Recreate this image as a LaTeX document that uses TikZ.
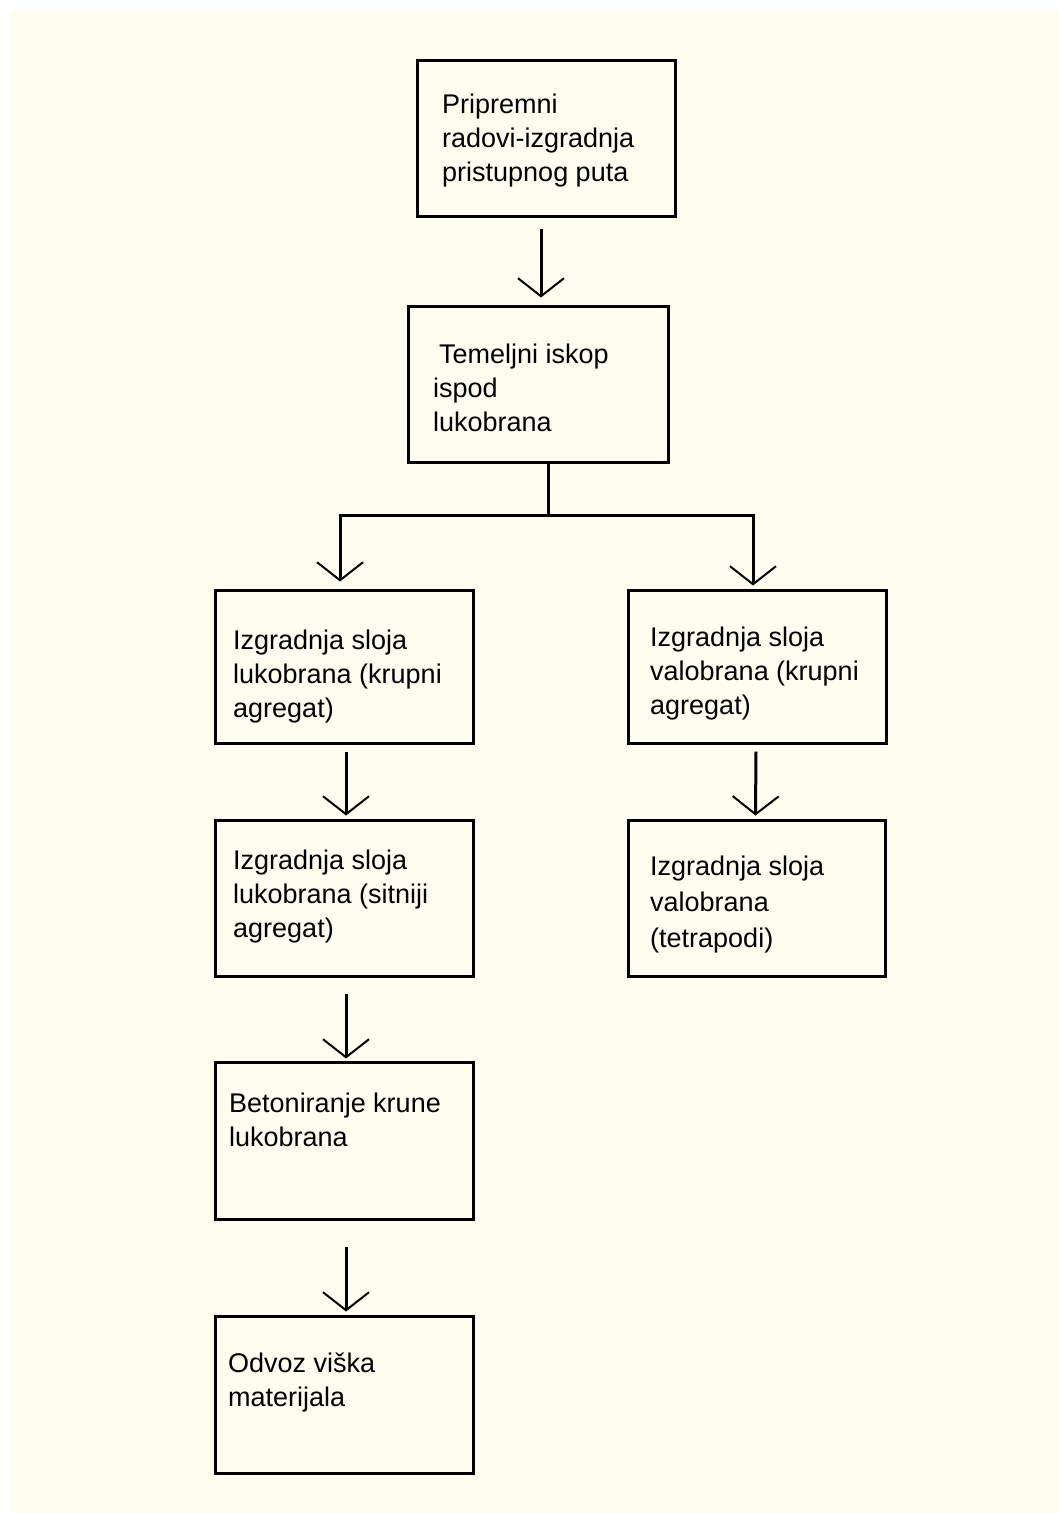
\documentclass[tikz,border=0pt]{standalone}
\usepackage{fontspec}
\setmainfont{Liberation Sans}
\usetikzlibrary{arrows.meta}
\definecolor{cream}{RGB}{255,252,240}
\begin{document}
\begin{tikzpicture}[x=1pt,y=-1pt,
  box/.style={draw=black,line width=3pt,inner sep=0pt,minimum width=258pt},
  txt/.style={anchor=north west,inner sep=0pt,align=left,font=\fontsize{27}{34}\selectfont},
  conn/.style={draw=black,line width=3pt},
  arr/.style={conn,-{Straight Barb[length=18pt,width=46pt,line width=2pt]}}]
\useasboundingbox (0,0) rectangle (1059,1513);
\fill[white] (0,0) rectangle (1059,1513);
\fill[cream] (11,12) rectangle (1059,1513);
% boxes
\node[box,minimum height=156pt] (b1) at (546.5,138.5) {};
\node[box,minimum width=260pt,minimum height=156pt] (b2) at (538.5,384) {};
\node[box,minimum height=153pt] (b3) at (344.5,667) {};
\node[box,minimum height=153pt] (b4) at (757.5,667) {};
\node[box,minimum height=156pt] (b5) at (344.5,898.5) {};
\node[box,minimum width=257pt,minimum height=156pt] (b6) at (757,898.5) {};
\node[box,minimum height=157pt] (b7) at (344.5,1141) {};
\node[box,minimum height=157pt] (b8) at (344.5,1395) {};
% texts (top = first baseline - 22)
\node[txt] (t1) at (442,91) {\rule{0pt}{22pt}Pripremni\\radovi-izgradnja\\pristupnog puta};
\node[txt] (t2) at (433,341) {\rule{0pt}{22pt}\hspace*{6pt}Temeljni iskop\\ispod\\lukobrana};
\node[txt] (t3) at (233,627) {\rule{0pt}{22pt}Izgradnja sloja\\lukobrana (krupni\\agregat)};
\node[txt] (t4) at (650,624) {\rule{0pt}{22pt}Izgradnja sloja\\valobrana (krupni\\agregat)};
\node[txt] (t5) at (233,847) {\rule{0pt}{22pt}Izgradnja sloja\\lukobrana (sitniji\\agregat)};
\node[txt,font=\fontsize{27}{36}\selectfont] (t6) at (650,853) {\rule{0pt}{22pt}Izgradnja sloja\\valobrana\\(tetrapodi)};
\node[txt] (t7) at (229,1090) {\rule{0pt}{22pt}Betoniranje krune\\lukobrana};
\node[txt] (t8) at (228,1350) {\rule{0pt}{22pt}Odvoz viška\\materijala};
% connectors
\draw[arr] ([xshift=-5.5pt,yshift=-10.5pt]b1.south) -- ([xshift=2.5pt,yshift=7pt]b2.north);
\coordinate (j) at (548,515);
\draw[conn] ([xshift=9.5pt]b2.south) -- (j);
\draw[arr] (j) -| ([xshift=-4.5pt,yshift=7.5pt]b3.north);
\draw[arr] (j) -| ([xshift=-4.5pt,yshift=3.5pt]b4.north);
\draw[arr] ([xshift=1.5pt,yshift=-6.5pt]b3.south) -- ([xshift=1.5pt,yshift=3.5pt]b5.north);
\draw[arr] ([xshift=-1.5pt,yshift=-6.5pt]b4.south) -- ([xshift=-1.5pt,yshift=3.5pt]b6.north);
\draw[arr] ([xshift=1.5pt,yshift=-15.5pt]b5.south) -- ([xshift=1.5pt,yshift=2.5pt]b7.north);
\draw[arr] ([xshift=1.5pt,yshift=-25.5pt]b7.south) -- ([xshift=1.5pt,yshift=3.5pt]b8.north);
\end{tikzpicture}
\end{document}
